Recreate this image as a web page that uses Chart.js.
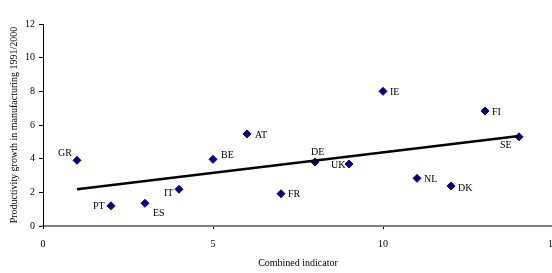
<!DOCTYPE html>
<html>
<head>
<meta charset="utf-8">
<script src="https://cdn.jsdelivr.net/npm/chart.js@4"></script>
<style>
  html, body { margin: 0; padding: 0; background: #fff; overflow: hidden; }
  #wrap { width: 552px; height: 273px; overflow: hidden; position: relative; }
  #chart { position: absolute; left: 0; top: 0; }
</style>
</head>
<body>
<!-- canvas is a bit wider than the page so the axis runs off the edge, like the original -->
<div id="wrap"><canvas id="chart" width="567" height="273"></canvas></div>
<script>
// ===== Data =====
const countries = ['GR', 'PT', 'ES', 'IT', 'BE', 'AT', 'FR', 'DE', 'UK', 'IE', 'NL', 'DK', 'FI', 'SE'];
const combinedIndicator = [1, 2, 3, 4, 5, 6, 7, 8, 9, 10, 11, 12, 13, 14];
const productivityGrowth = [3.9, 1.2, 1.35, 2.18, 3.96, 5.47, 1.92, 3.8, 3.68, 8.0, 2.83, 2.38, 6.83, 5.3];
const trendX = [1, 14];
const trendY = [2.18, 5.35];

// label placement relative to each marker (dx, dy)
const labelPlace = {
  GR: [-19, -7], PT: [-18, 1], ES: [8, 10], IT: [-15, 4],
  BE: [8, -4], AT: [8, 1], FR: [7, 1], DE: [-4, -10],
  UK: [-18, 1], IE: [7, 1], NL: [7, 1], DK: [7, 2],
  FI: [7, 1], SE: [-19, 9]
};

const serif = 'Liberation Serif, Times New Roman, serif';

const pointLabels = {
  id: 'pointLabels',
  afterDatasetsDraw(chart) {
    const ctx = chart.ctx;
    const xs = chart.scales.x, ys = chart.scales.y;
    ctx.save();
    ctx.font = '10px ' + serif;
    ctx.fillStyle = '#000';
    ctx.textBaseline = 'middle';
    ctx.textAlign = 'left';
    countries.forEach((c, i) => {
      const px = xs.getPixelForValue(combinedIndicator[i]);
      const py = ys.getPixelForValue(productivityGrowth[i]);
      const p = labelPlace[c];
      ctx.fillText(c, px + p[0], py + p[1]);
    });
    ctx.restore();
  }
};

new Chart(document.getElementById('chart'), {
  type: 'scatter',
  data: {
    datasets: [
      {
        label: 'Trend',
        type: 'line',
        data: trendX.map((x, i) => ({ x, y: trendY[i] })),
        borderColor: '#000',
        borderWidth: 2.5,
        pointRadius: 0,
        fill: false
      },
      {
        label: 'Countries',
        data: combinedIndicator.map((x, i) => ({ x, y: productivityGrowth[i] })),
        pointStyle: 'rectRot',
        pointRadius: 4,
        backgroundColor: '#000080',
        borderColor: '#000080'
      }
    ]
  },
  options: {
    responsive: false,
    animation: false,
    layout: { padding: { top: 24, right: 0, left: 0, bottom: 0 } },
    plugins: { legend: { display: false }, tooltip: { enabled: false } },
    scales: {
      x: {
        type: 'linear',
        min: 0, max: 15,
        afterFit: s => { s.height = 47; },
        ticks: { stepSize: 5, color: '#000', font: { family: serif, size: 10 }, padding: 9 },
        grid: { drawOnChartArea: false, drawTicks: true, tickLength: 3, color: '#000' },
        border: { color: '#808080', width: 2 },
        title: { display: true, text: 'Combined indicator', color: '#000', font: { family: serif, size: 10 }, padding: { top: 6 } }
      },
      y: {
        min: 0, max: 12,
        afterFit: s => { s.width = 43; },
        ticks: { stepSize: 2, color: '#000', font: { family: serif, size: 10 }, padding: 4 },
        grid: { drawOnChartArea: false, drawTicks: true, tickLength: 4, color: '#000' },
        border: { color: '#000', width: 1 },
        title: { display: true, text: 'Productivity growth in manufacturing 1991/2000', color: '#000', font: { family: serif, size: 10 }, padding: { top: 8, bottom: 0 } }
      }
    }
  },
  plugins: [pointLabels]
});
</script>
</body>
</html>
